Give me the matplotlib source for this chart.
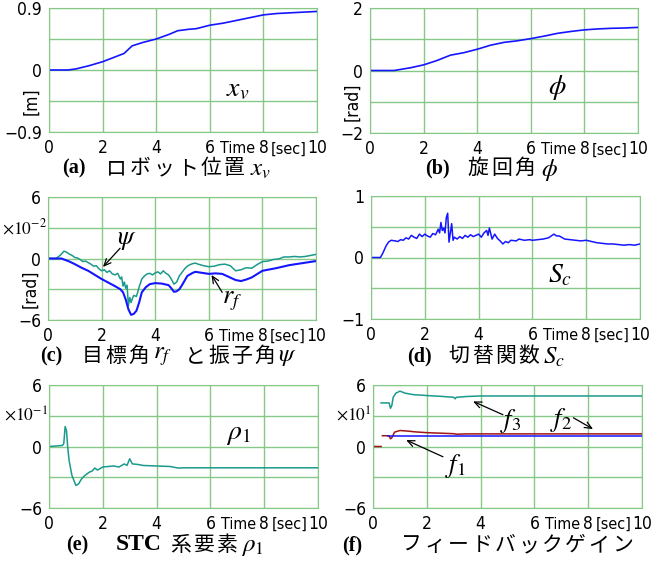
import matplotlib
matplotlib.use('Agg')
import numpy as np
import matplotlib.pyplot as plt

plt.rcParams['mathtext.fontset'] = 'stix'

# (a) robot position x_v [m]
t_xv = [0, 0.7, 1.0, 1.5, 2.0, 2.5, 2.8, 3.1, 3.5, 4.0, 4.5, 4.8, 5.2, 5.5, 6.0, 6.5,
        7.0, 7.5, 8.0, 8.5, 9.0, 9.5, 10.0]
xv = [0, 0, 0.015, 0.063, 0.12, 0.195, 0.24, 0.35, 0.4, 0.45, 0.52, 0.57, 0.59, 0.6,
      0.65, 0.68, 0.72, 0.76, 0.8, 0.82, 0.83, 0.84, 0.85]

# (b) turning angle phi [rad]
t_phi = [0, 0.9, 1.5, 2.0, 2.5, 3.0, 3.5, 4.0, 4.5, 5.0, 5.5, 6.0, 6.5, 7.0, 7.5, 8.0,
         8.5, 9.0, 9.5, 10.0]
phi = [0, 0, 0.086, 0.18, 0.32, 0.49, 0.57, 0.68, 0.81, 0.9, 0.95, 1.02, 1.1, 1.19,
       1.25, 1.3, 1.33, 1.35, 1.36, 1.38]

# (c) target angle r_f and pendulum angle psi [x1e-2 rad]
t_rf = [0, 0.5, 0.6, 0.8, 1.0, 1.25, 1.5, 1.75, 2.0, 2.25, 2.5, 2.7, 2.8, 2.9, 3.0, 3.1,
        3.2, 3.3, 3.4, 3.5, 3.65, 3.8, 4.0, 4.25, 4.5, 4.6, 4.7, 4.8, 4.9, 5.0, 5.2, 5.4,
        5.5, 5.75, 6.0, 6.25, 6.5, 6.75, 7.0, 7.2, 7.4, 7.6, 8.0, 8.5, 9.0, 9.5, 10.0]
rf = [0, 0, -0.1, -0.3, -0.55, -0.9, -1.2, -1.6, -2.0, -2.35, -2.7, -3.0, -3.3, -4.0,
      -4.95, -5.5, -5.4, -5.1, -4.3, -3.3, -2.8, -2.5, -2.4, -2.45, -2.6, -2.9, -3.25,
      -3.2, -3.0, -2.6, -1.7, -1.4, -1.3, -1.4, -1.5, -1.45, -1.5, -1.8, -2.1, -2.2,
      -2.05, -1.85, -1.2, -0.95, -0.65, -0.45, -0.25]
t_psi = [0, 0.3, 0.45, 0.6, 0.7, 0.8, 0.9, 1.0, 1.1, 1.2, 1.3, 1.4, 1.5, 1.6, 1.7, 1.8,
         1.9, 2.0, 2.1, 2.2, 2.3, 2.4, 2.5, 2.6, 2.7, 2.75, 2.8, 2.85, 2.9, 2.95, 3.0,
         3.05, 3.1, 3.15, 3.2, 3.3, 3.4, 3.5, 3.6, 3.7, 3.8, 3.9, 4.0, 4.1, 4.2, 4.3,
         4.4, 4.5, 4.6, 4.7, 4.8, 4.9, 5.0, 5.1, 5.2, 5.3, 5.4, 5.5, 5.6, 5.8, 6.0, 6.2,
         6.4, 6.6, 6.8, 7.0, 7.2, 7.4, 7.6, 7.8, 8.0, 8.2, 8.4, 8.6, 8.8, 9.0, 9.2, 9.4,
         9.6, 9.8, 10.0]
psi = [0, 0, 0.3, 0.72, 0.6, 0.42, 0.3, 0.1, 0.05, -0.1, -0.3, -0.25, -0.4, -0.55,
       -0.75, -0.7, -1.0, -1.2, -1.1, -1.35, -1.2, -1.5, -1.6, -1.45, -2.0, -1.8, -2.7,
       -2.3, -2.9, -2.6, -4.6, -3.8, -4.3, -3.9, -3.6, -3.7, -2.8, -2.0, -1.7, -1.5,
       -1.45, -1.6, -1.4, -1.3, -1.5, -1.2, -1.45, -1.6, -2.0, -2.5, -2.3, -1.7, -1.35,
       -1.0, -0.75, -0.6, -0.5, -0.45, -0.55, -0.7, -0.8, -0.75, -0.6, -0.55, -0.7,
       -1.2, -1.1, -0.9, -0.95, -0.6, -0.3, -0.25, -0.1, -0.05, 0.15, 0.15, 0.2, 0.15,
       0.2, 0.3, 0.4]

# (d) switching function S_c
t_sc = [0, 0.35, 0.45, 0.55, 0.65, 0.75, 0.9, 1.0, 1.1, 1.2, 1.3, 1.4, 1.5, 1.6, 1.7,
        1.8, 1.9, 2.0, 2.1, 2.2, 2.3, 2.4, 2.5, 2.55, 2.6, 2.65, 2.7, 2.75, 2.8, 2.85,
        2.9, 2.95, 3.0, 3.05, 3.1, 3.2, 3.3, 3.4, 3.5, 3.6, 3.7, 3.8, 3.9, 4.0, 4.1,
        4.2, 4.3, 4.35, 4.4, 4.5, 4.6, 4.7, 4.8, 4.9, 5.0, 5.1, 5.2, 5.4, 5.5, 5.7, 5.9,
        6.0, 6.2, 6.4, 6.6, 6.8, 6.9, 7.0, 7.2, 7.4, 7.6, 7.8, 8.0, 8.2, 8.4, 8.6, 8.8,
        9.0, 9.2, 9.4, 9.6, 9.8, 10.0]
sc = [0, 0, 0.08, 0.18, 0.25, 0.28, 0.27, 0.26, 0.29, 0.28, 0.32, 0.3, 0.36, 0.33,
      0.31, 0.38, 0.34, 0.38, 0.35, 0.33, 0.39, 0.37, 0.46, 0.4, 0.57, 0.44, 0.48, 0.4,
      0.65, 0.72, 0.25, 0.4, 0.55, 0.28, 0.33, 0.3, 0.34, 0.31, 0.36, 0.33, 0.37, 0.34,
      0.36, 0.38, 0.33, 0.4, 0.44, 0.36, 0.48, 0.3, 0.38, 0.31, 0.27, 0.22, 0.26, 0.24,
      0.28, 0.27, 0.3, 0.28, 0.29, 0.28, 0.29, 0.3, 0.32, 0.38, 0.35, 0.35, 0.3, 0.29,
      0.28, 0.27, 0.28, 0.26, 0.24, 0.23, 0.22, 0.22, 0.21, 0.2, 0.21, 0.2, 0.22]

# (e) STC element rho_1 [x1e-1]
t_rho = [0, 0.5, 0.55, 0.6, 0.65, 0.7, 0.75, 0.85, 1.0, 1.1, 1.2, 1.3, 1.4, 1.5, 1.6,
         1.7, 1.8, 2.0, 2.2, 2.4, 2.6, 2.8, 2.9, 3.0, 3.1, 3.3, 3.5, 4.0, 4.5, 4.8, 5.0,
         10.0]
rho = [0, 0.1, 0.3, 1.95, 1.55, -0.2, -1.4, -2.8, -3.8, -3.65, -3.2, -2.9, -2.7, -2.5,
       -2.4, -2.1, -2.3, -2.0, -1.95, -1.9, -2.0, -1.7, -1.85, -1.2, -1.7, -1.75, -1.85,
       -1.9, -1.95, -2.1, -2.08, -2.08]

# (f) feedback gains [x1e1]
t_f1 = [0.55, 10.0]
f1 = [1.0, 1.0]
t_f2 = [0, 0.3, np.nan, 0.35, 0.6, 0.65, 0.7, 0.8, 1.0, 1.3, 1.6, 2.0, 2.5, 3.0, 3.1,
        3.5, 4.0, 10.0]
f2 = [0, 0, np.nan, 1.05, 1.05, 0.75, 0.85, 1.4, 1.56, 1.5, 1.42, 1.35, 1.3, 1.25, 1.2,
      1.23, 1.23, 1.23]
t_f3 = [0.3, 0.6, 0.65, 0.7, 0.75, 0.85, 1.0, 1.2, 1.5, 2.0, 2.5, 3.0, 3.05, 3.1, 3.5,
        4.0, 10.0]
f3 = [4.25, 4.25, 3.73, 4.0, 4.8, 5.2, 5.4, 5.2, 5.06, 4.97, 4.9, 4.8, 4.65, 4.8, 4.88,
      4.93, 4.93]

W, H = 659, 562
fig = plt.figure(figsize=(W / 100, H / 100), dpi=100)

GRID = '#86c986'
BLUE = '#1515ff'
TEAL = '#1a9a8c'
RED = '#a01515'
NARROW = dict(family=['DejaVu Sans'], stretch='condensed', fontsize=12.5)
SMALL = dict(family=['DejaVu Sans'], stretch='condensed', fontsize=11.5)
SERIF = ['Liberation Serif', 'DejaVu Serif']
JP = ['Noto Sans CJK JP', 'DejaVu Sans']
ARROW = dict(arrowstyle='->,head_length=0.5,head_width=0.22', color='black', lw=0.9,
             shrinkA=0, shrinkB=0)


def make_axes(l, t, r, b, lim, ylabs, unit=None, mult=None):
    ax = fig.add_axes([l / W, 1 - b / H, (r - l) / W, (b - t) / H])
    ax.set_xlim(0, 10)
    ax.set_ylim(-lim, lim)
    ax.set_xticks([0, 2, 4, 6, 8, 10])
    ax.set_xticklabels(['0', '2', '4', '6', '8', '10'], **NARROW)
    ax.set_yticks(np.linspace(-lim, lim, 5))
    ax.set_yticklabels([ylabs[0], '', ylabs[1], '', ylabs[2]], **NARROW)
    ax.tick_params(length=0, pad=5)
    ax.grid(True, color=GRID, lw=1)
    for s in ax.spines.values():
        s.set_color(GRID)
    tr = ax.get_xaxis_transform()
    ax.text(7.03, -0.075, 'Time', transform=tr, ha='center', va='top', **SMALL)
    ax.text(8.95, -0.075, '[sec]', transform=tr, ha='center', va='top', **SMALL)
    ytr = ax.get_yaxis_transform()
    if unit:
        ax.text(-0.065, -lim / 2, unit, transform=ytr, rotation=90, ha='center',
                va='center', **NARROW)
    if mult:
        ax.text(-0.005, lim / 2, mult, transform=ytr, ha='right', va='center',
                fontsize=12.5)
    return ax


def fx(x, y):
    return x / W, 1 - y / H


def tag(x, y, s, size=14.5):
    fig.text(*fx(x, y), s, family=SERIF, weight='bold', fontsize=size, ha='left',
             va='center')


def jp(x, y, s, pitch=23.5):
    for i, ch in enumerate(s):
        fig.text(*fx(x + pitch * (i + 0.5), y), ch, family=JP, fontsize=15,
                 ha='center', va='center')


def mth(x, y, s):
    fig.text(*fx(x, y), s, fontsize=18, ha='left', va='center')


ax = make_axes(49, 8, 317, 132, 0.9, ['\u22120.9', '0', '0.9'], unit='[m]')
ax.plot(t_xv, xv, color=BLUE, lw=1.2)
ax.text(7.05, -0.26, r'$x_v$', fontsize=20, ha='center', va='center')
tag(62, 168, '(a)')
jp(105, 168, 'ロボット位置')
mth(250, 169, r'$x_v$')

ax = make_axes(370, 8, 638, 133, 2, ['\u22122', '0', '2'], unit='[rad]')
ax.plot(t_phi, phi, color=BLUE, lw=1.2)
ax.text(7.0, -0.53, r'$\phi$', fontsize=20, ha='center', va='center')
tag(425, 168, '(b)')
jp(466, 168, '旋回角')
mth(541, 170, r'$\phi$')

ax = make_axes(48, 197, 316, 320, 6, ['\u22126', '0', '6'], unit='[rad]',
               mult=r'$\times10^{-2}$')
ax.plot(t_psi, psi, color=TEAL, lw=1.1)
ax.plot(t_rf, rf, color=BLUE, lw=1.5)
ax.text(2.95, 1.9, r'$\psi$', fontsize=19, ha='center', va='center')
ax.annotate('', xy=(2.05, -0.83), xytext=(2.69, 1.0), arrowprops=ARROW)
ax.text(6.85, -4.05, r'$r_f$', fontsize=19, ha='center', va='center')
ax.annotate('', xy=(6.1, -1.6), xytext=(6.5, -3.3), arrowprops=ARROW)
tag(40, 356, '(c)')
jp(81, 356, '目標角', 23)
mth(153, 356, r'$r_f$')
jp(184, 356, 'と振子角', 23)
mth(278, 356, r'$\psi$')

ax = make_axes(371, 196, 640, 319, 1, ['\u22121', '0', '1'])
ax.plot(t_sc, sc, color=BLUE, lw=1.1)
ax.text(7.03, -0.28, r'$S_c$', fontsize=20, ha='center', va='center')
tag(407, 356, '(d)')
jp(447, 356, '切替関数')
mth(543, 357, r'$S_c$')

ax = make_axes(49, 385, 318, 508, 6, ['\u22126', '0', '6'], mult=r'$\times10^{-1}$')
ax.plot(t_rho, rho, color=TEAL, lw=1.1)
ax.text(7.03, 1.3, r'$\rho_1$', fontsize=20, ha='center', va='center')
tag(66, 545, '(e)')
tag(116, 545, 'STC', 17)
jp(169, 545, '系要素', 23)
mth(241, 546, r'$\rho_1$')

ax = make_axes(373, 385, 642, 508, 6, ['\u22126', '0', '6'], mult=r'$\times10^{1}$')
ax.plot(t_f3, f3, color=TEAL, lw=1.1)
ax.plot(t_f2, f2, color=RED, lw=1.1)
ax.plot(t_f1, f1, color=BLUE, lw=1.1)
ax.text(5.1, 2.5, r'$f_3$', fontsize=19, ha='center', va='center')
ax.annotate('', xy=(3.72, 4.4), xytext=(4.83, 3.1), arrowprops=ARROW)
ax.text(7.0, 2.6, r'$f_2$', fontsize=19, ha='center', va='center')
ax.annotate('', xy=(8.18, 1.7), xytext=(7.45, 2.8), arrowprops=ARROW)
ax.text(3.05, -1.9, r'$f_1$', fontsize=19, ha='center', va='center')
ax.annotate('', xy=(1.23, 0.63), xytext=(2.6, -1.0), arrowprops=ARROW)
tag(342, 545, '(f)')
jp(400, 545, 'フィードバックゲイン', 23.4)

fig.savefig('out.png', dpi=100)
